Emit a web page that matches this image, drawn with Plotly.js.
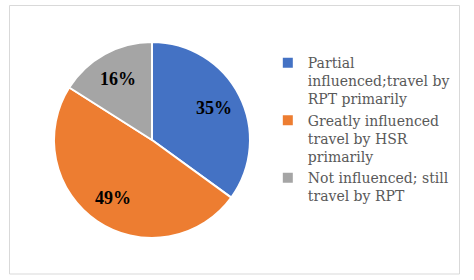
<!DOCTYPE html>
<html>
<head>
<meta charset="utf-8">
<script src="https://cdn.plot.ly/plotly-3.0.1.min.js"></script>
<style>html,body{margin:0;padding:0;background:#fff;}#chart{width:474px;height:280px;}</style>
</head>
<body>
<div id="chart"></div>
<script>
const categories = [
  "Partial<br>influenced;travel by<br>RPT primarily",
  "Greatly influenced<br>travel by HSR<br>primarily",
  "Not influenced; still<br>travel by RPT"
];
const shares = [35, 49, 16];
const percentLabels = ["35%", "49%", "16%"];
const sliceColors = ["#4472C4", "#ED7D31", "#A5A5A5"];

const W = 474, H = 280;
const domX = [0.1139, 0.5274], domY = [0.15, 0.85];

// label annotations placed along each slice's mid-angle (derived from the data)
const total = shares.reduce((a, b) => a + b, 0);
const cx = (domX[0] + domX[1]) / 2, cy = (domY[0] + domY[1]) / 2;
const rPx = Math.min((domX[1] - domX[0]) * W, (domY[1] - domY[0]) * H) / 2;
const labelFrac = 0.71;
let cum = 0;
const annotations = shares.map((v, i) => {
  const mid = (cum + v / 2) / total * 2 * Math.PI;
  cum += v;
  const dx = Math.sin(mid) * rPx * labelFrac;
  const dy = Math.cos(mid) * rPx * labelFrac;
  return {
    xref: "paper", yref: "paper",
    x: cx + dx / W, y: cy + dy / H,
    text: "<b>" + percentLabels[i] + "</b>",
    showarrow: false, xanchor: "center", yanchor: "middle",
    font: {family: "Liberation Serif", size: 18, color: "#000000"}
  };
});

const data = [{
  type: "pie",
  labels: categories,
  values: shares,
  sort: false,
  direction: "clockwise",
  rotation: 0,
  marker: {colors: sliceColors, line: {color: "#ffffff", width: 2}},
  textinfo: "none",
  domain: {x: domX, y: domY},
  hoverinfo: "none"
}];

const layout = {
  width: W, height: H,
  margin: {l: 0, r: 0, t: 0, b: 0},
  paper_bgcolor: "#ffffff",
  showlegend: true,
  legend: {
    x: 0.565, xanchor: "left", y: 0.832, yanchor: "top",
    valign: "top",
    font: {family: "DejaVu Serif", size: 14, color: "#595959"},
    tracegroupgap: 0
  },
  annotations: annotations,
  shapes: [{
    type: "rect", xref: "paper", yref: "paper",
    x0: 9.5/474, x1: 459.5/474, y0: 1 - 274/280, y1: 1 - 5.5/280,
    line: {color: "#D9D9D9", width: 1}, fillcolor: "rgba(0,0,0,0)"
  }]
};

Plotly.newPlot("chart", data, layout, {staticPlot: true});
</script>
</body>
</html>
